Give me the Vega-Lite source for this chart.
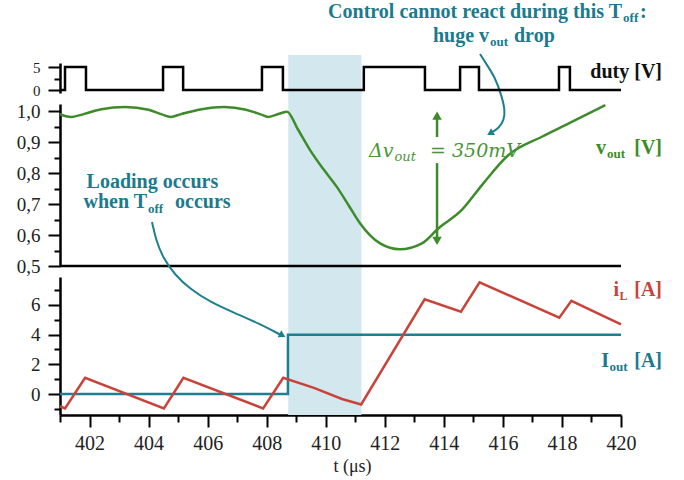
{
  "$schema": "https://vega.github.io/schema/vega-lite/v6.json",
  "width": 561,
  "height": 415,
  "autosize": "none",
  "padding": {"left": 60, "top": 0, "right": 63, "bottom": 65},
  "background": "white",
  "config": {
    "view": {"stroke": null},
    "font": "Liberation Serif",
    "axis": {
      "grid": false,
      "domainColor": "#000000",
      "domainWidth": 2.5,
      "tickColor": "#000000",
      "tickWidth": 2,
      "labelFont": "Liberation Serif",
      "labelColor": "#222222",
      "labelOverlap": false,
      "labelFlush": false,
      "titleFont": "Liberation Serif"
    }
  },
  "encoding": {
    "x": {
      "field": "t",
      "type": "quantitative",
      "scale": {"domain": [401, 420], "nice": false, "zero": false},
      "axis": {
        "values": [401,402,403,404,405,406,407,408,409,410,411,412,413,414,415,416,417,418,419,420],
        "labelExpr": "datum.value % 2 === 0 ? datum.value : ''",
        "tickSize": {"condition": {"test": "datum.value % 2 === 0", "value": 12}, "value": 7},
        "labelFontSize": 20,
        "labelPadding": 6,
        "title": "t (μs)",
        "titleFontSize": 18,
        "titleFontWeight": "normal",
        "titleColor": "#222222",
        "titleX": 292,
        "titleY": 56,
        "titleBaseline": "alphabetic"
      }
    }
  },
  "layer": [
    {
      "encoding": {
        "y": {
          "field": "v",
          "type": "quantitative",
          "scale": {"domain": [0.5, 1.0226], "range": [266, 104], "nice": false, "zero": false},
          "axis": {
            "orient": "left",
            "title": null,
            "values": [0.5,0.55,0.6,0.65,0.7,0.75,0.8,0.85,0.9,0.95,1.0],
            "labelExpr": "round(datum.value*20) % 2 === 0 ? replace(format(datum.value, '.1f'), '.', ',') : ''",
            "tickSize": {"condition": {"test": "round(datum.value*20) % 2 === 0", "value": 12}, "value": 6},
            "labelFontSize": 19,
            "labelPadding": 8
          }
        }
      },
      "layer": [
        {
          "data": {"values": [{"t": 408.73, "t2": 411.21, "v": 1.1806, "v2": 0.0194}]},
          "mark": {"type": "rect", "color": "#d3e8ee"},
          "encoding": {
            "x2": {"field": "t2"},
            "y2": {"field": "v2"}
          }
        },
        {
          "data": {"values": [{"t": 401, "t2": 420, "v": 0.5}]},
          "mark": {"type": "rule", "color": "#000000", "strokeWidth": 2.5},
          "encoding": {"x2": {"field": "t2"}}
        },
        {
          "data": {"values": [
            {"t": 401.0, "v": 0.990}, {"t": 401.2, "v": 0.983}, {"t": 401.4, "v": 0.981},
            {"t": 401.8, "v": 0.990}, {"t": 402.4, "v": 1.006}, {"t": 403.2, "v": 1.013},
            {"t": 404.0, "v": 1.004}, {"t": 404.45, "v": 0.989}, {"t": 404.75, "v": 0.981},
            {"t": 405.1, "v": 0.990}, {"t": 405.8, "v": 1.006}, {"t": 406.55, "v": 1.013},
            {"t": 407.3, "v": 1.004}, {"t": 407.8, "v": 0.989}, {"t": 408.05, "v": 0.981},
            {"t": 408.45, "v": 0.992}, {"t": 408.69, "v": 0.998},
            {"t": 409.05, "v": 0.942}, {"t": 409.47, "v": 0.874}, {"t": 409.9, "v": 0.815},
            {"t": 410.37, "v": 0.756}, {"t": 410.8, "v": 0.692}, {"t": 411.16, "v": 0.638},
            {"t": 411.84, "v": 0.573}, {"t": 412.51, "v": 0.554}, {"t": 413.26, "v": 0.573},
            {"t": 413.82, "v": 0.622}, {"t": 414.61, "v": 0.681}, {"t": 415.29, "v": 0.761},
            {"t": 416.19, "v": 0.858}, {"t": 417.32, "v": 0.917}, {"t": 418.23, "v": 0.960},
            {"t": 419.47, "v": 1.019}
          ]},
          "mark": {"type": "line", "color": "#3d8b2a", "strokeWidth": 2.5, "interpolate": "monotone"}
        },
        {
          "data": {"values": [
            {"g": "up", "i": 0, "t": 413.77, "v": 0.99}, {"g": "up", "i": 1, "t": 413.77, "v": 0.916},
            {"g": "down", "i": 0, "t": 413.77, "v": 0.832}, {"g": "down", "i": 1, "t": 413.77, "v": 0.59}
          ]},
          "mark": {"type": "line", "color": "#3d8b2a", "strokeWidth": 2.5},
          "encoding": {"detail": {"field": "g"}, "order": {"field": "i", "type": "quantitative"}}
        },
        {
          "data": {"values": [{"t": 413.77, "v": 0.985}]},
          "mark": {"type": "point", "shape": "triangle-up", "filled": true, "opacity": 1, "color": "#3d8b2a", "size": 90}
        },
        {
          "data": {"values": [{"t": 413.77, "v": 0.581}]},
          "mark": {"type": "point", "shape": "triangle-down", "filled": true, "opacity": 1, "color": "#3d8b2a", "size": 90}
        },
        {
          "data": {"values": [
            {"g": "top", "i": 0, "t": 415.225, "v": 1.184}, {"g": "top", "i": 1, "t": 415.394, "v": 1.158},
            {"g": "top", "i": 2, "t": 415.733, "v": 1.110}, {"g": "top", "i": 3, "t": 415.97, "v": 1.045},
            {"g": "top", "i": 4, "t": 416.07, "v": 1.003}, {"g": "top", "i": 5, "t": 416.04, "v": 0.971},
            {"g": "top", "i": 6, "t": 415.87, "v": 0.945}, {"g": "top", "i": 7, "t": 415.6, "v": 0.930},
            {"g": "load", "i": 0, "t": 404.116, "v": 0.642}, {"g": "load", "i": 1, "t": 404.251, "v": 0.584},
            {"g": "load", "i": 2, "t": 404.488, "v": 0.526}, {"g": "load", "i": 3, "t": 404.895, "v": 0.471},
            {"g": "load", "i": 4, "t": 405.403, "v": 0.426}, {"g": "load", "i": 5, "t": 406.08, "v": 0.384},
            {"g": "load", "i": 6, "t": 406.927, "v": 0.348}, {"g": "load", "i": 7, "t": 407.774, "v": 0.313},
            {"g": "load", "i": 8, "t": 408.45, "v": 0.279}
          ]},
          "mark": {"type": "line", "color": "#1e7f90", "strokeWidth": 2, "interpolate": "basis"},
          "encoding": {"detail": {"field": "g"}, "order": {"field": "i", "type": "quantitative"}}
        },
        {
          "data": {"values": [{"t": 415.6, "v": 0.930}]},
          "mark": {"type": "point", "shape": "triangle", "angle": 240, "filled": true, "opacity": 1, "color": "#1e7f90", "size": 60}
        },
        {
          "data": {"values": [{"t": 408.5, "v": 0.278}]},
          "mark": {"type": "point", "shape": "triangle", "angle": 118, "filled": true, "opacity": 1, "color": "#1e7f90", "size": 60}
        },
        {
          "data": {"values": [
            {"t": 420.034, "v": 1.3, "s": "Control cannot react during this T"},
            {"t": 415.53, "v": 1.2242, "s": "huge v"},
            {"t": 403.947, "v": 0.6871, "s": "when T"}
          ]},
          "mark": {"type": "text", "align": "right", "baseline": "alphabetic", "font": "Liberation Serif", "fontWeight": "bold", "fontSize": 20, "color": "#1b7a8c"},
          "encoding": {"text": {"field": "s"}}
        },
        {
          "data": {"values": [
            {"t": 420.64, "v": 1.3, "s": ":"},
            {"t": 416.376, "v": 1.2242, "s": "drop"},
            {"t": 404.895, "v": 0.6871, "s": "occurs"},
            {"t": 401.9, "v": 0.7516, "s": "Loading occurs"}
          ]},
          "mark": {"type": "text", "align": "left", "baseline": "alphabetic", "font": "Liberation Serif", "fontWeight": "bold", "fontSize": 20, "color": "#1b7a8c"},
          "encoding": {"text": {"field": "s"}}
        },
        {
          "data": {"values": [
            {"t": 420.07, "v": 1.2871, "s": "off"},
            {"t": 415.563, "v": 1.2113, "s": "out"},
            {"t": 403.98, "v": 0.6710, "s": "off"}
          ]},
          "mark": {"type": "text", "align": "left", "baseline": "alphabetic", "font": "Liberation Serif", "fontWeight": "bold", "fontSize": 13, "color": "#1b7a8c"},
          "encoding": {"text": {"field": "s"}}
        },
        {
          "data": {"values": [
            {"t": 419.492, "v": 0.8613, "s": "v"},
            {"t": 421.389, "v": 0.8613, "s": "[V]"}
          ]},
          "mark": {"type": "text", "align": "right", "baseline": "alphabetic", "font": "Liberation Serif", "fontWeight": "bold", "fontSize": 20, "color": "#3d8b2a"},
          "encoding": {"text": {"field": "s"}}
        },
        {
          "data": {"values": [{"t": 419.526, "v": 0.8484, "s": "out"}]},
          "mark": {"type": "text", "align": "left", "baseline": "alphabetic", "font": "Liberation Serif", "fontWeight": "bold", "fontSize": 13, "color": "#3d8b2a"},
          "encoding": {"text": {"field": "s"}}
        },
        {
          "data": {"values": [
            {"t": 411.465, "v": 0.8516, "s": "Δv"},
            {"t": 413.531, "v": 0.8516, "s": "= 350mV"}
          ]},
          "mark": {"type": "text", "align": "left", "baseline": "alphabetic", "font": "DejaVu Serif", "fontStyle": "italic", "fontSize": 19, "color": "#4a9438"},
          "encoding": {"text": {"field": "s"}}
        },
        {
          "data": {"values": [{"t": 412.33, "v": 0.8387, "s": "out"}]},
          "mark": {"type": "text", "align": "left", "baseline": "alphabetic", "font": "DejaVu Serif", "fontStyle": "italic", "fontSize": 13, "color": "#4a9438"},
          "encoding": {"text": {"field": "s"}}
        }
      ]
    },
    {
      "encoding": {
        "y": {
          "field": "d",
          "type": "quantitative",
          "scale": {"domain": [-0.65, 5.87], "range": [93, 63], "nice": false, "zero": false},
          "axis": {
            "orient": "left",
            "title": null,
            "values": [0, 2.5, 5],
            "labelExpr": "datum.value === 2.5 ? '' : datum.value",
            "tickSize": {"condition": {"test": "datum.value === 2.5", "value": 6}, "value": 12},
            "labelFontSize": 15,
            "labelPadding": 8
          }
        }
      },
      "layer": [
        {
          "data": {"values": [
            {"t": 401, "d": 0}, {"t": 401.17, "d": 5}, {"t": 401.88, "d": 0},
            {"t": 404.49, "d": 5}, {"t": 405.17, "d": 0}, {"t": 407.84, "d": 5},
            {"t": 408.55, "d": 0}, {"t": 411.29, "d": 5}, {"t": 413.36, "d": 0},
            {"t": 414.55, "d": 5}, {"t": 415.19, "d": 0}, {"t": 417.9, "d": 5},
            {"t": 418.27, "d": 0}, {"t": 420, "d": 0}
          ]},
          "mark": {"type": "line", "color": "#000000", "strokeWidth": 2.5, "interpolate": "step-after"}
        },
        {
          "data": {"values": [{"t": 421.389, "d": 2.609, "s": "duty [V]"}]},
          "mark": {"type": "text", "align": "right", "baseline": "alphabetic", "font": "Liberation Serif", "fontWeight": "bold", "fontSize": 20, "color": "#111111"},
          "encoding": {"text": {"field": "s"}}
        }
      ]
    },
    {
      "encoding": {
        "y": {
          "field": "i",
          "type": "quantitative",
          "scale": {"domain": [-1.41, 7.88], "range": [415, 277], "nice": false, "zero": false},
          "axis": {
            "orient": "left",
            "title": null,
            "values": [-1, 0, 1, 2, 3, 4, 5, 6, 7],
            "labelExpr": "datum.value % 2 === 0 ? datum.value : ''",
            "tickSize": {"condition": {"test": "datum.value % 2 === 0", "value": 12}, "value": 6},
            "labelFontSize": 19,
            "labelPadding": 8
          }
        }
      },
      "layer": [
        {
          "data": {"values": [{"t": 401, "i": 0}, {"t": 408.72, "i": 4}, {"t": 420, "i": 4}]},
          "mark": {"type": "line", "color": "#1e7f90", "strokeWidth": 2.5, "interpolate": "step-after"}
        },
        {
          "data": {"values": [
            {"t": 401.0, "i": -0.82}, {"t": 401.17, "i": -0.97}, {"t": 401.85, "i": 1.1},
            {"t": 404.52, "i": -0.97}, {"t": 405.18, "i": 1.1}, {"t": 407.88, "i": -0.97},
            {"t": 408.56, "i": 1.1}, {"t": 409.6, "i": 0.42}, {"t": 410.55, "i": -0.33},
            {"t": 411.2, "i": -0.7}, {"t": 413.35, "i": 6.38}, {"t": 414.58, "i": 5.54},
            {"t": 415.21, "i": 7.52}, {"t": 417.91, "i": 5.14}, {"t": 418.32, "i": 6.28},
            {"t": 420.0, "i": 4.69}
          ]},
          "mark": {"type": "line", "color": "#c9433b", "strokeWidth": 2.5}
        },
        {
          "data": {"values": [
            {"t": 419.933, "i": 6.599, "s": "i"},
            {"t": 421.389, "i": 6.599, "s": "[A]"}
          ]},
          "mark": {"type": "text", "align": "right", "baseline": "alphabetic", "font": "Liberation Serif", "fontWeight": "bold", "fontSize": 20, "color": "#c9433b"},
          "encoding": {"text": {"field": "s"}}
        },
        {
          "data": {"values": [{"t": 419.95, "i": 6.33, "s": "L"}]},
          "mark": {"type": "text", "align": "left", "baseline": "alphabetic", "font": "Liberation Serif", "fontWeight": "bold", "fontSize": 12, "color": "#c9433b"},
          "encoding": {"text": {"field": "s"}}
        },
        {
          "data": {"values": [
            {"t": 419.594, "i": 1.818, "s": "I"},
            {"t": 421.389, "i": 1.818, "s": "[A]"}
          ]},
          "mark": {"type": "text", "align": "right", "baseline": "alphabetic", "font": "Liberation Serif", "fontWeight": "bold", "fontSize": 20, "color": "#1b7a8c"},
          "encoding": {"text": {"field": "s"}}
        },
        {
          "data": {"values": [{"t": 419.61, "i": 1.549, "s": "out"}]},
          "mark": {"type": "text", "align": "left", "baseline": "alphabetic", "font": "Liberation Serif", "fontWeight": "bold", "fontSize": 13, "color": "#1b7a8c"},
          "encoding": {"text": {"field": "s"}}
        }
      ]
    }
  ],
  "resolve": {"scale": {"y": "independent"}, "axis": {"y": "independent"}}
}
